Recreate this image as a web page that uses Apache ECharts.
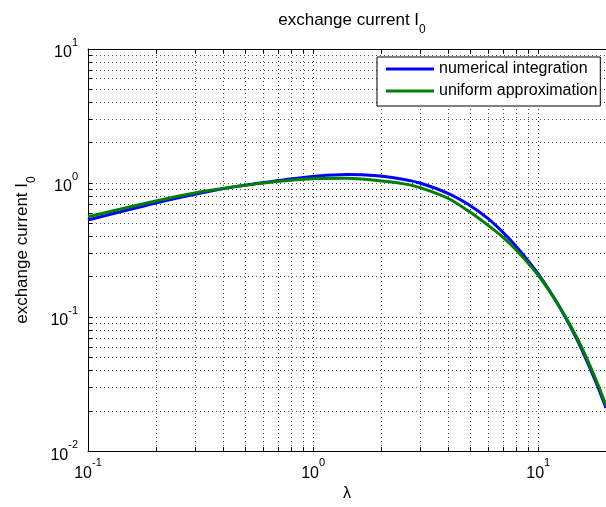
<!DOCTYPE html>
<html>
<head>
<meta charset="utf-8">
<script src="https://cdn.jsdelivr.net/npm/echarts@6/dist/echarts.min.js"></script>
<style>html,body{margin:0;padding:0;background:#fff}#c{width:606px;height:507px}</style>
</head>
<body>
<div id="c"></div>
<script>
const lambdaVals = [0.1, 0.2, 0.31, 0.45, 0.57, 0.75, 1.05, 1.42, 1.92, 2.5, 2.98, 3.97, 4.94, 5.95, 6.92, 8.0, 10, 12.5, 15, 18, 20];
const numericalVals = [0.53, 0.71, 0.835, 0.94, 0.995, 1.06, 1.13, 1.16, 1.135, 1.068, 1.0, 0.838, 0.686, 0.547, 0.434, 0.335, 0.21, 0.117, 0.066, 0.033, 0.021];
const uniformVals = [0.56, 0.735, 0.855, 0.94, 0.99, 1.04, 1.08, 1.085, 1.045, 0.99, 0.925, 0.77, 0.612, 0.487, 0.398, 0.315, 0.205, 0.118, 0.068, 0.0345, 0.022];
const xTickVals = [0.1,0.2,0.3,0.4,0.5,0.6,0.7,0.8,0.9,1,2,3,4,5,6,7,8,9,10,20];
const xLabelVals = [0.1, 1, 10];
const yTickVals = [0.01,0.02,0.03,0.04,0.05,0.06,0.07,0.08,0.09,0.1,0.2,0.3,0.4,0.5,0.6,0.7,0.8,0.9,1,2,3,4,5,6,7,8,9,10];
const yLabelVals = [0.01, 0.1, 1, 10];
const seriesNames = ['numerical integration', 'uniform approximation'];

const FONT = 'Liberation Sans, Arial, Helvetica, sans-serif';
const pow10 = v => '{b|10}{s|' + Math.round(Math.log10(v)) + '}';
const richSup = {
  b: {fontSize: 16, fontFamily: FONT, color: '#000', lineHeight: 24, verticalAlign: 'bottom'},
  s: {fontSize: 11, fontFamily: FONT, color: '#000', lineHeight: 13, verticalAlign: 'top'}
};
const richSub = {
  a: {fontSize: 17, fontFamily: FONT, color: '#000', lineHeight: 24, verticalAlign: 'top'},
  sub: {fontSize: 12, fontFamily: FONT, color: '#000', lineHeight: 13, verticalAlign: 'bottom'}
};
const gridDots = {show: true, lineStyle: {type: [1, 3], color: '#000', width: 1, opacity: 0.7}};
const blackLine = {show: true, lineStyle: {color: '#000', width: 1}};

const chart = echarts.init(document.getElementById('c'), null, {renderer: 'canvas'});
chart.setOption({
  backgroundColor: '#fff',
  animation: false,
  title: {
    text: '{a|exchange current I}{sub|0}',
    left: 347, top: 7, textAlign: 'center',
    textStyle: {fontWeight: 'normal', rich: richSub}
  },
  legend: {
    left: 377, top: 57,
    orient: 'vertical',
    data: seriesNames,
    icon: 'rect',
    itemWidth: 48, itemHeight: 3,
    itemGap: 4,
    padding: [3, 3, 6, 9],
    borderColor: '#000', borderWidth: 1, borderRadius: 0,
    backgroundColor: '#fff',
    textStyle: {fontSize: 16, fontFamily: FONT, color: '#000', lineHeight: 18}
  },
  grid: {left: 88, right: -5, top: 49, bottom: 55, containLabel: false},
  xAxis: [{
    type: 'log', logBase: 10, min: 0.1, max: 20,
    name: 'λ', nameLocation: 'middle', nameGap: 32,
    nameTextStyle: {fontSize: 16, fontFamily: FONT, color: '#000'},
    axisLine: blackLine,
    axisTick: {show: true, inside: true, length: 4, customValues: xTickVals, lineStyle: {color: '#000'}},
    axisLabel: {customValues: xLabelVals, formatter: pow10, rich: richSup, margin: 6},
    splitLine: gridDots
  }, {
    type: 'log', logBase: 10, min: 0.1, max: 20, position: 'top',
    axisLine: blackLine,
    axisTick: {show: true, inside: true, length: 4, customValues: xTickVals, lineStyle: {color: '#000'}},
    axisLabel: {show: false},
    splitLine: {show: false}
  }],
  yAxis: [{
    type: 'log', logBase: 10, min: 0.01, max: 10,
    name: '{a|exchange current I}{sub|0}', nameLocation: 'middle', nameGap: 50, nameRotate: 90,
    nameTextStyle: {rich: richSub},
    axisLine: blackLine,
    axisTick: {show: true, inside: true, length: 4, customValues: yTickVals, lineStyle: {color: '#000'}},
    axisLabel: {customValues: yLabelVals, formatter: pow10, rich: richSup, margin: 10},
    splitLine: gridDots
  }],
  series: [{
    name: seriesNames[0], type: 'line', xAxisIndex: 0, yAxisIndex: 0,
    data: lambdaVals.map((x, i) => [x, numericalVals[i]]),
    smooth: 0.3, showSymbol: false, symbol: 'none',
    color: '#0000ff', lineStyle: {color: '#0000ff', width: 3}, z: 3
  }, {
    name: seriesNames[1], type: 'line', xAxisIndex: 0, yAxisIndex: 0,
    data: lambdaVals.map((x, i) => [x, uniformVals[i]]),
    smooth: 0.3, showSymbol: false, symbol: 'none',
    color: '#008000', lineStyle: {color: '#008000', width: 3}, z: 4
  }]
});
</script>
</body>
</html>
